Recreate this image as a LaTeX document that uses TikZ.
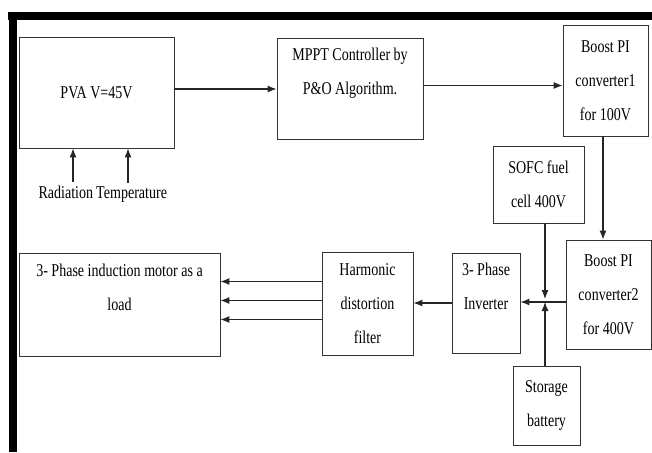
\documentclass[tikz,border=0pt]{standalone}
\usepackage{fontspec}
\setmainfont{Liberation Serif}[FakeStretch=0.78]
\usepackage{tikz}
\usetikzlibrary{calc}
\usetikzlibrary{arrows.meta,positioning}

\begin{document}
\begin{tikzpicture}[->,>={Latex[length=9pt,width=7pt]},x=1pt,y=-1pt,line width=1.1pt,draw=black!85]
  \tikzstyle{block}=[draw=black!80,line width=0.8pt,align=center,inner sep=0pt,
                     font=\fontsize{18}{34}\selectfont]
  \useasboundingbox (0,0) rectangle (652,452);

  % thick frame on top and left
  \fill[black] (8,12) rectangle (652,20);
  \fill[black] (9,12) rectangle (17,452);

  \node[block, minimum width=155pt, minimum height=111pt] (pva)    at (96.5,92.5)  {PVA V=45V};
  \node[block, minimum width=146pt, minimum height=101pt] (mppt)   at (350,88.5)   {MPPT Controller by\\ P\&O Algorithm.\\ \mbox{}};
  \node[block, minimum width=85pt,  minimum height=111pt] (boost1) at (605.5,80.5) {Boost PI\\ converter1\\ for 100V};
  \node[block, minimum width=91pt,  minimum height=77pt]  (sofc)   at (538.5,184.5) {SOFC fuel\\ cell 400V};
  \node[block, minimum width=85pt,  minimum height=109pt] (boost2) at (608.5,294.5) {Boost PI\\ converter2\\ for 400V};
  \node[block, minimum width=68pt,  minimum height=100pt] (inv)    at (486,303)    {3- Phase\\ Inverter\\ \mbox{}};
  \node[block, minimum width=67pt,  minimum height=79pt]  (batt)   at (546.5,405.5) {Storage\\ battery};
  \node[block, minimum width=91pt,  minimum height=103pt] (filt)   at (367.5,303.5) {Harmonic\\ distortion\\ filter};
  \node[block, minimum width=201pt, minimum height=103pt] (motor)  at (119.5,304.5) {3- Phase induction motor as a\\ load\\ \mbox{}};

  \node[font=\fontsize{18}{34}\selectfont, inner sep=0pt, anchor=base west] (rad)  at (38,198) {Radiation};
  \node[font=\fontsize{18}{34}\selectfont, inner sep=0pt, anchor=base west] (temp) at ($(rad.base east)+(2,0)$) {Temperature};

  \coordinate (j) at (545,300);

  \draw (73,0 |- rad.north) ++(0,-3) -- (73,0 |- pva.south);
  \draw (128,0 |- temp.north) ++(0,-3) -- (128,0 |- pva.south);

  \draw ([yshift=3.5pt]pva.east) -- ([yshift=3.5pt]pva.east -| mppt.west);
  \draw ([yshift=3pt]mppt.east) -- ([yshift=3pt]mppt.east -| boost1.west);
  \draw (boost1.south -| 603,0) -- (603,0 |- boost2.north);

  \draw (sofc.south -| j) -- ([yshift=1pt]j);
  \draw (batt.north -| j) -- ([yshift=-2pt]j);
  \draw ([yshift=-7.5pt]boost2.west) -- ([yshift=-7.5pt]boost2.west -| inv.east);

  \draw (inv.west) -- (inv.west -| filt.east);
  \foreach \dy in {22,3,-16}
    \draw ([yshift=\dy pt]filt.west) -- ([yshift=\dy pt]filt.west -| motor.east);
\end{tikzpicture}
\end{document}
